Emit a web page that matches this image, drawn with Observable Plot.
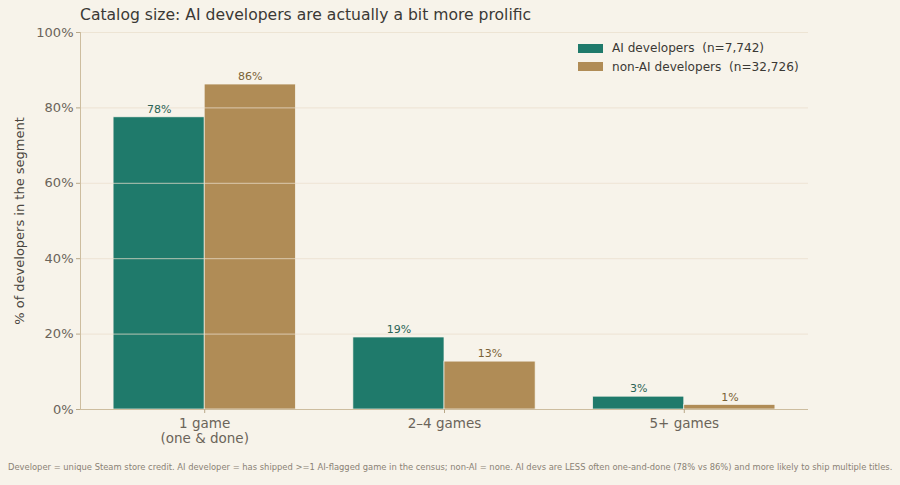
<!DOCTYPE html>
<html><head><meta charset="utf-8">
<script src="https://cdn.jsdelivr.net/npm/d3@7"></script>
<script src="https://cdn.jsdelivr.net/npm/@observablehq/plot@0.6"></script>
<style>
html,body{margin:0;padding:0;background:#f7f3ea;width:900px;height:485px;overflow:hidden;font-family:"DejaVu Sans",sans-serif;}
#wrap{position:relative;width:900px;height:485px;}
#title{position:absolute;left:80px;top:5px;font-size:15.6px;color:#3b3935;line-height:20px;white-space:nowrap;}
#chart{padding-top:22px;}
#legend{position:absolute;left:578px;top:39px;font-size:12.1px;color:#3b3935;}
.li{display:flex;align-items:center;height:18.5px;white-space:pre;}
.sw{width:25px;height:9px;margin-right:9px;}
#foot{position:absolute;left:8px;top:462px;font-size:8.37px;color:#8a8275;white-space:nowrap;}
</style></head>
<body><div id="wrap">
<div id="chart"></div>
<div id="title">Catalog size: AI developers are actually a bit more prolific</div>
<div id="legend"></div>
<div id="foot">Developer = unique Steam store credit. AI developer = has shipped &gt;=1 AI-flagged game in the census; non-AI = none. AI devs are LESS often one-and-done (78% vs 86%) and more likely to ship multiple titles.</div>
</div>
<script>
const categories = ["1 game\n(one & done)", "2–4 games", "5+ games"];
const seriesNames = ["AI developers  (n=7,742)", "non-AI developers  (n=32,726)"];
const aiValues = [77.5, 19.1, 3.4];
const nonAiValues = [86.2, 12.7, 1.2];
const yTicks = [0, 20, 40, 60, 80, 100];
const colors = ["#1f7a6b", "#b08c56"];
const labelColors = ["#2b6356", "#7a6236"];

const W = 0.38;
const data = [];
categories.forEach((c, i) => {
  data.push({cat: c, i, s: 0, v: aiValues[i], x1: i - W, x2: i});
  data.push({cat: c, i, s: 1, v: nonAiValues[i], x1: i, x2: i + W});
});

const chart = Plot.plot({
  width: 900,
  height: 427,
  marginLeft: 80,
  marginRight: 92,
  marginTop: 10,
  marginBottom: 40,
  style: {background: "#f7f3ea", fontFamily: "DejaVu Sans, sans-serif"},
  x: {domain: [-0.518, 2.518]},
  y: {domain: [0, 100]},
  marks: [
    Plot.rectY(data, {x1: "x1", x2: "x2", y: "v", fill: d => colors[d.s], stroke: "#f7f3ea", strokeWidth: 0.7}),
    Plot.gridY(yTicks.filter(t => t > 0), {stroke: "#e9dfcc", strokeOpacity: 0.75, strokeWidth: 1}),
    Plot.text(data, {x: d => (d.x1 + d.x2) / 2, y: "v", text: d => Math.round(d.v) + "%", dy: -8, fill: d => labelColors[d.s], fontSize: 11}),
    Plot.ruleX([-0.518], {stroke: "#cdbd9f", strokeWidth: 1}),
    Plot.ruleY([0], {stroke: "#cdbd9f", strokeWidth: 1}),
    Plot.axisY({ticks: yTicks, tickFormat: d => d + "%", tickSize: 4, tickPadding: 3, fontSize: 13, color: "#6b6459", stroke: "#b9a888",
      label: "% of developers in the segment", labelAnchor: "center", labelArrow: "none", labelOffset: 66}),
    Plot.axisX({ticks: [0, 1, 2], tickFormat: i => categories[i], tickSize: 4, tickPadding: 4, fontSize: 13.5, color: "#6b6459", stroke: "#b9a888", label: null, lineHeight: 1.1})
  ]
});
chart.querySelectorAll('[aria-label="y-axis label"] text').forEach(t => { t.setAttribute("fill", "#4a4640"); t.style.fontSize = "13px"; });
document.getElementById("chart").appendChild(chart);

const leg = document.getElementById("legend");
seriesNames.forEach((n, k) => {
  const d = document.createElement("div"); d.className = "li";
  d.innerHTML = `<span class="sw" style="background:${colors[k]}"></span><span>${n}</span>`;
  leg.appendChild(d);
});
</script>
</body></html>
